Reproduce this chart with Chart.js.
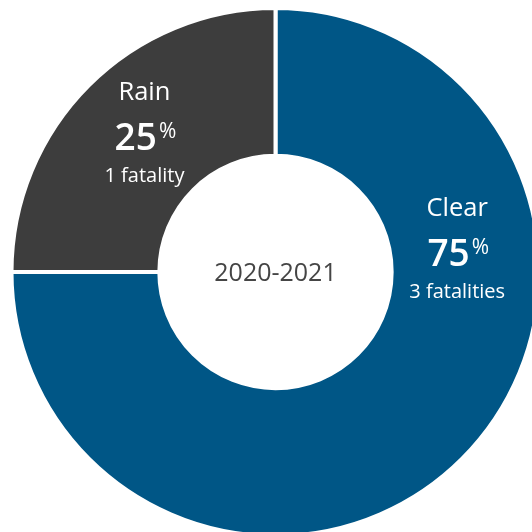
<!DOCTYPE html>
<html>
<head>
<meta charset="utf-8">
<script src="https://cdn.jsdelivr.net/npm/chart.js@4/dist/chart.umd.min.js"></script>
<style>
html, body { margin: 0; padding: 0; background: #fff; overflow: hidden; width: 532px; height: 532px; }
#wrap { position: absolute; left: 0; top: 0; width: 551px; height: 544px; }
</style>
</head>
<body>
<div id="wrap"><canvas id="weather-chart"></canvas></div>
<script>
const labels = ['Clear', 'Rain'];
const fatalities = [3, 1];
const detailLabels = ['3 fatalities', '1 fatality'];
const centerLabel = '2020-2021';

const colors = ['#005686', '#3d3d3d'];
// where each segment's text block sits (degrees, canvas angle; shift from mid-ring radius)
const labelAngles = [-7, 226.4];
const labelRadiusShift = [-7, 0];

Chart.defaults.font.family = "'Open Sans', sans-serif";

const total = fatalities.reduce((a, b) => a + b, 0);

const segmentLabels = {
	id: 'segmentLabels',
	afterDatasetsDraw(chart) {
		const ctx = chart.ctx;
		const meta = chart.getDatasetMeta(0);
		ctx.save();
		ctx.fillStyle = '#fff';
		ctx.textBaseline = 'alphabetic';
		meta.data.forEach((arc, i) => {
			const p = arc.getProps(['x', 'y', 'innerRadius', 'outerRadius'], true);
			const r = (p.innerRadius + p.outerRadius) / 2 + labelRadiusShift[i];
			const a = labelAngles[i] * Math.PI / 180;
			const cx = p.x + Math.cos(a) * r;
			const cy = p.y + Math.sin(a) * r;

			ctx.textAlign = 'center';
			ctx.font = "25.5px 'Open Sans'";
			ctx.fillText(labels[i], cx, cy - 34);

			const pct = Math.round(fatalities[i] / total * 100) + '';
			ctx.font = "600 37px 'Open Sans'";
			const w1 = ctx.measureText(pct).width;
			ctx.font = "21px 'Open Sans'";
			const w2 = ctx.measureText('%').width;
			const left = cx - (w1 + w2) / 2;
			ctx.textAlign = 'left';
			ctx.font = "600 37px 'Open Sans'";
			ctx.fillText(pct, left, cy + 16);
			ctx.font = "21px 'Open Sans'";
			ctx.fillText('%', left + w1 + 2, cy + 4);

			ctx.textAlign = 'center';
			ctx.font = "20px 'Open Sans'";
			ctx.fillText(detailLabels[i], cx, cy + 48);
		});
		const c = meta.data[0].getProps(['x', 'y'], true);
		ctx.fillStyle = '#454545';
		ctx.textAlign = 'center';
		ctx.textBaseline = 'middle';
		ctx.font = "25px 'Open Sans'";
		ctx.fillText(centerLabel, c.x, c.y + 2);
		ctx.restore();
	}
};

new Chart(document.getElementById('weather-chart'), {
	type: 'doughnut',
	data: {
		labels: labels,
		datasets: [{
			data: fatalities,
			backgroundColor: colors,
			borderColor: '#fff',
			borderWidth: 4,
			hoverOffset: 0
		}]
	},
	options: {
		responsive: true,
		maintainAspectRatio: false,
		animation: false,
		cutout: '44%',
		layout: { padding: { left: 9.5, right: 9.5, top: 6, bottom: 6 } },
		plugins: {
			legend: { display: false },
			tooltip: { enabled: false }
		}
	},
	plugins: [segmentLabels]
});
</script>
</body>
</html>
